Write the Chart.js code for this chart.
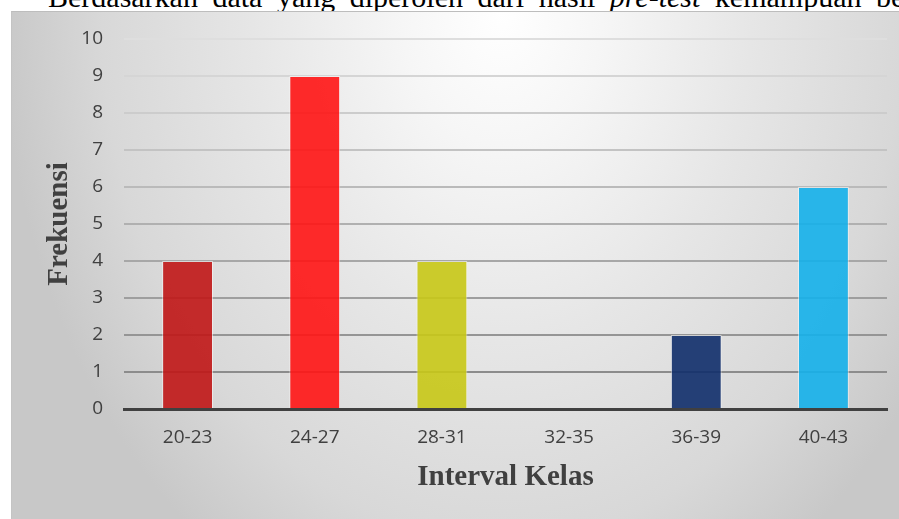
<!DOCTYPE html>
<html>
<head>
<meta charset="utf-8">
<script src="https://cdn.jsdelivr.net/npm/chart.js@4.4.1/dist/chart.umd.min.js"></script>
<style>
  html, body { margin: 0; padding: 0; width: 899px; height: 519px; overflow: hidden; background: #ffffff; }
  #lead {
    position: absolute; left: 48px; top: -18px; white-space: nowrap;
    font-family: 'Liberation Serif', 'Times New Roman', serif;
    font-size: 30px; line-height: 30px; word-spacing: 7px; color: #000;
  }
  #panel {
    position: absolute; left: 11px; top: 11px; width: 888px; height: 508px;
    box-sizing: border-box; border-top: 1px solid #bdbdbd; border-left: 1px solid #c4c4c4;
    background: radial-gradient(ellipse 500px 660px at 490px 0px,
      #ffffff 0%, #f6f6f6 20%, #e6e6e6 50%, #d8d8d8 80%, #c8c8c8 100%);
  }
  #chart { position: absolute; left: 0; top: 0; }
</style>
</head>
<body>
<div id="lead">Berdasarkan data yang diperoleh dari hasil <i>pre-test</i> kemampuan berpikir</div>
<div id="panel"></div>
<canvas id="chart" width="899" height="519"></canvas>
<script>
// Frequency distribution of pre-test scores per class interval
const categories = ['20-23', '24-27', '28-31', '32-35', '36-39', '40-43'];
const frekuensi = [4, 9, 4, 0, 2, 6];
const barColors = [
  'rgba(192, 22, 22, 0.9)',
  'rgba(255, 20, 20, 0.9)',
  'rgba(200, 200, 22, 0.9)',
  'rgba(120, 120, 120, 0.9)',
  'rgba(16, 46, 106, 0.9)',
  'rgba(20, 176, 234, 0.9)'
];
const yMin = 0;
const yMax = 10;
const yStep = 1;

const tickFont = { family: "'Open Sans', 'Noto Sans', sans-serif", size: 19 };
const titleFont = { family: "'Liberation Serif', 'Times New Roman', serif", size: 29, weight: 'bold' };

// Gridlines fade from light at the top to darker near the baseline
function gridColor(ctx) {
  const v = ctx.tick ? ctx.tick.value : 0;
  if (v === 0) return 'rgba(0,0,0,0)';
  const c = Math.round(140 + (v - 1) * (222 - 140) / 9);
  return `rgb(${c},${c},${c})`;
}

new Chart(document.getElementById('chart'), {
  type: 'bar',
  data: {
    labels: categories,
    datasets: [{
      data: frekuensi,
      backgroundColor: barColors,
      borderColor: 'rgba(255,255,255,0.55)',
      borderWidth: 1,
      categoryPercentage: 1,
      barPercentage: 0.4
    }]
  },
  options: {
    responsive: false,
    animation: false,
    devicePixelRatio: 1,
    layout: { padding: { left: 11, top: 39, right: 12, bottom: 0 } },
    plugins: { legend: { display: false }, tooltip: { enabled: false } },
    scales: {
      x: {
        grid: { display: false, drawTicks: false },
        border: { display: true, color: '#404040', width: 3 },
        ticks: { color: '#404040', font: tickFont, padding: 17, maxRotation: 0 },
        title: {
          display: true, text: 'Interval Kelas', color: '#404040', font: titleFont,
          padding: { top: 0, bottom: 24 }
        },
        afterFit(scale) { scale.height = 110; }
      },
      y: {
        min: yMin,
        max: yMax,
        ticks: { stepSize: yStep, color: '#404040', font: tickFont, padding: 21 },
        grid: { drawTicks: false, color: gridColor, lineWidth: 2 },
        border: { display: false },
        title: {
          display: true, text: 'Frekuensi', color: '#404040', font: titleFont,
          padding: { top: 31, bottom: 0 }
        },
        afterFit(scale) { scale.width = 113; }
      }
    }
  }
});
</script>
</body>
</html>
